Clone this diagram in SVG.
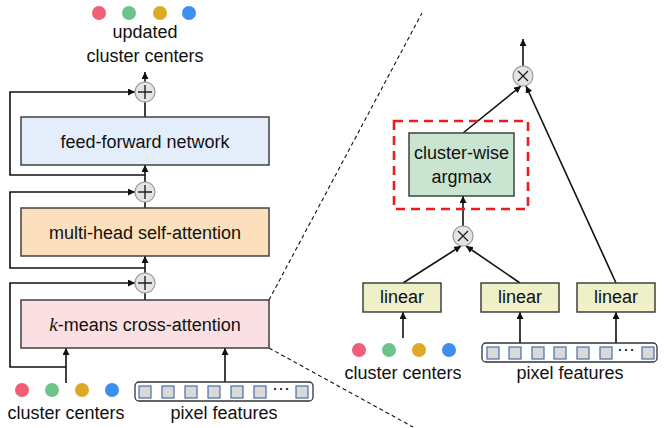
<svg xmlns="http://www.w3.org/2000/svg" width="664" height="428" viewBox="0 0 664 428">
<style>
text{font-family:"Liberation Sans",Arial,sans-serif;font-size:18px;fill:#111;text-anchor:middle}
.box{stroke:#404040;stroke-width:1.5}
.op{fill:#e4e4e4;stroke:#9a9a9a;stroke-width:1.2}
.sym{stroke:#222;stroke-width:1.4;fill:none}
.ln{stroke:#111;stroke-width:1.6;fill:none}
.arr{stroke:#111;stroke-width:1.6;fill:none;marker-end:url(#ah)}
.dash{stroke:#111;stroke-width:1.1;fill:none;stroke-dasharray:4 3}
.sq{fill:#d9d9d9;stroke:#4a6ea8;stroke-width:1.2}
.pbox{fill:#fff;stroke:#333;stroke-width:1.3}
.r{fill:#ef5f78}.g{fill:#6dc48a}.y{fill:#dda927}.b{fill:#3e8ef0}
</style>
<defs>
<marker id="ah" viewBox="0 0 8 8" refX="8" refY="4" markerWidth="7" markerHeight="7" markerUnits="userSpaceOnUse" orient="auto">
<path d="M0,0 L8,4 L0,8 z" fill="#111"/>
</marker>
</defs>

<g id="connectors">
<line class="arr" x1="145" y1="82" x2="145" y2="72"/>
<line class="ln" x1="145" y1="117" x2="145" y2="102"/>
<polyline class="arr" points="145,175 10,175 10,92 135,92"/>
<line class="arr" x1="145" y1="182" x2="145" y2="165"/>
<line class="ln" x1="145" y1="208" x2="145" y2="202"/>
<polyline class="arr" points="145,268 10,268 10,192 135,192"/>
<line class="arr" x1="145" y1="273" x2="145" y2="256"/>
<line class="ln" x1="145" y1="300" x2="145" y2="293"/>
<polyline class="arr" points="66,367 10,367 10,283 135,283"/>
<line class="arr" x1="66" y1="383" x2="66" y2="348"/>
<line class="arr" x1="225" y1="382" x2="225" y2="348"/>
<line class="dash" x1="269" y1="300" x2="422" y2="13"/>
<line class="dash" x1="269" y1="348" x2="413" y2="427"/>
<line class="arr" x1="523" y1="66" x2="523" y2="39"/>
<line class="arr" x1="463" y1="133" x2="521" y2="86"/>
<line class="arr" x1="616" y1="283" x2="526" y2="86"/>
<line class="arr" x1="463" y1="226" x2="463" y2="196"/>
<line class="arr" x1="403" y1="283" x2="461" y2="246"/>
<line class="arr" x1="520" y1="283" x2="466" y2="246"/>
<line class="arr" x1="403" y1="338" x2="403" y2="312"/>
<line class="arr" x1="520" y1="343" x2="520" y2="312"/>
<line class="arr" x1="616" y1="343" x2="616" y2="312"/>
</g>

<g id="updated-centers">
<circle class="r" cx="99" cy="13" r="7"/>
<circle class="g" cx="129" cy="13" r="7"/>
<circle class="y" cx="160" cy="13" r="7"/>
<circle class="b" cx="189" cy="13" r="7"/>
<text x="145" y="38">updated</text>
<text x="145" y="62">cluster centers</text>
</g>

<g id="plus1"><circle class="op" cx="145" cy="92" r="10"/><path class="sym" d="M138,92 H152 M145,85 V99"/></g>
<g id="plus2"><circle class="op" cx="145" cy="192" r="10"/><path class="sym" d="M138,192 H152 M145,185 V199"/></g>
<g id="plus3"><circle class="op" cx="145" cy="283" r="10"/><path class="sym" d="M138,283 H152 M145,276 V290"/></g>

<g id="ffn"><rect class="box" x="21" y="117" width="248" height="48" fill="#e4eefa"/><text x="145" y="148">feed-forward network</text></g>
<g id="mhsa"><rect class="box" x="21" y="208" width="248" height="48" fill="#fce0bd"/><text x="145" y="239">multi-head self-attention</text></g>
<g id="kmeans"><rect class="box" x="21" y="300" width="248" height="48" fill="#fbe0e3"/><text x="145" y="331"><tspan font-family="'Liberation Serif',serif" font-style="italic" font-size="19">k</tspan>-means cross-attention</text></g>

<g id="cluster-centers-left">
<circle class="r" cx="22" cy="390" r="7"/>
<circle class="g" cx="52" cy="390" r="7"/>
<circle class="y" cx="82" cy="390" r="7"/>
<circle class="b" cx="112" cy="390" r="7"/>
<text x="66" y="419">cluster centers</text>
</g>

<g id="pixel-features-left">
<rect class="pbox" x="135" y="382" width="178" height="19" rx="4"/>
<rect class="sq" x="139" y="386" width="12" height="12"/>
<rect class="sq" x="162" y="386" width="12" height="12"/>
<rect class="sq" x="185" y="386" width="12" height="12"/>
<rect class="sq" x="208" y="386" width="12" height="12"/>
<rect class="sq" x="231" y="386" width="12" height="12"/>
<rect class="sq" x="254" y="386" width="12" height="12"/>
<text x="281" y="394" font-size="12">···</text>
<rect class="sq" x="296" y="386" width="12" height="12"/>
<text x="224" y="419">pixel features</text>
</g>

<g id="mul-top"><circle class="op" cx="523" cy="76" r="10"/><path class="sym" d="M518,71 L528,81 M528,71 L518,81"/></g>

<g id="argmax">
<rect x="394" y="121" width="134" height="88" fill="none" stroke="#ee1c1c" stroke-width="2.6" stroke-dasharray="9 6"/>
<rect class="box" x="409" y="133" width="105" height="63" fill="#c9e5d1"/>
<text x="461.5" y="159">cluster-wise</text>
<text x="461.5" y="183">argmax</text>
</g>

<g id="mul-mid"><circle class="op" cx="463" cy="236" r="10"/><path class="sym" d="M458,231 L468,241 M468,231 L458,241"/></g>

<g id="linear1"><rect class="box" x="363" y="283" width="78" height="29" fill="#f0f0c8"/><text x="402" y="303">linear</text></g>
<g id="linear2"><rect class="box" x="481" y="283" width="78" height="29" fill="#f0f0c8"/><text x="520" y="303">linear</text></g>
<g id="linear3"><rect class="box" x="577" y="283" width="78" height="29" fill="#f0f0c8"/><text x="616" y="303">linear</text></g>

<g id="cluster-centers-right">
<circle class="r" cx="359" cy="350" r="7"/>
<circle class="g" cx="389" cy="350" r="7"/>
<circle class="y" cx="419" cy="350" r="7"/>
<circle class="b" cx="449" cy="350" r="7"/>
<text x="403" y="379">cluster centers</text>
</g>

<g id="pixel-features-right">
<rect class="pbox" x="482" y="343" width="175" height="19" rx="4"/>
<rect class="sq" x="487" y="347" width="12" height="12"/>
<rect class="sq" x="509" y="347" width="12" height="12"/>
<rect class="sq" x="532" y="347" width="12" height="12"/>
<rect class="sq" x="554" y="347" width="12" height="12"/>
<rect class="sq" x="577" y="347" width="12" height="12"/>
<rect class="sq" x="600" y="347" width="12" height="12"/>
<text x="626" y="355" font-size="12">···</text>
<rect class="sq" x="642" y="347" width="12" height="12"/>
<text x="570" y="379">pixel features</text>
</g>
</svg>
